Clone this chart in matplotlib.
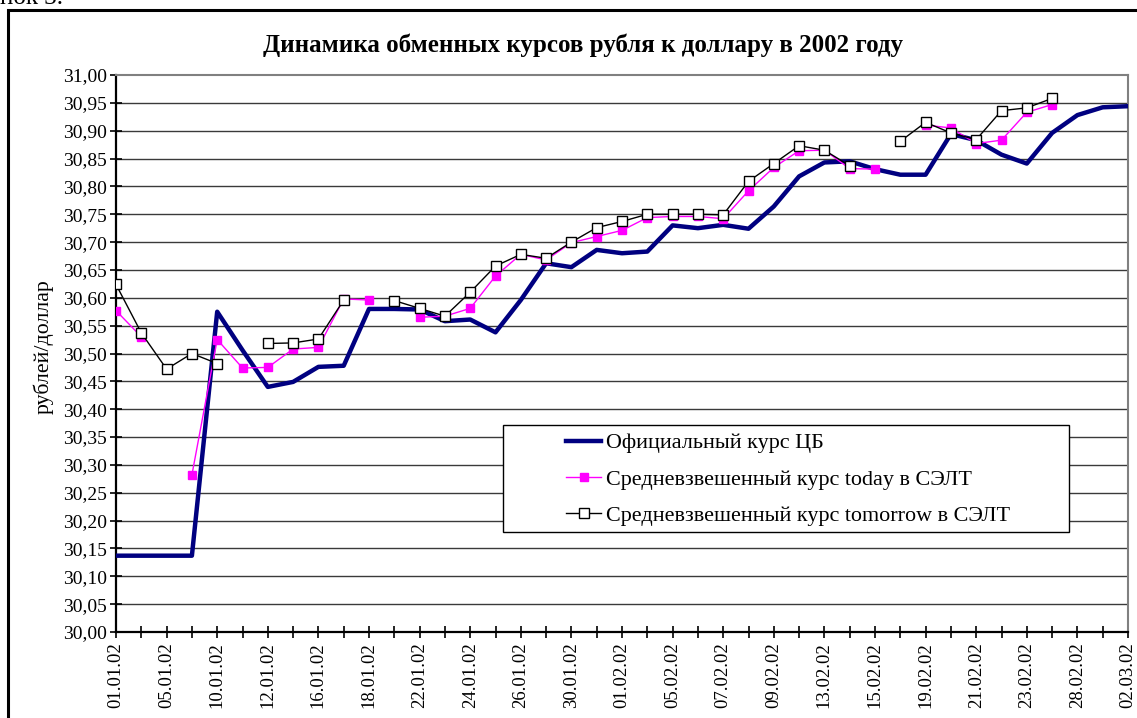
import numpy as np
import matplotlib
matplotlib.use("Agg")
import matplotlib.pyplot as plt
from matplotlib.patches import Rectangle
from matplotlib.ticker import FuncFormatter

nan = np.nan

# every second day label on the axis
date_labels = ["01.01.02", "05.01.02", "10.01.02", "12.01.02", "16.01.02", "18.01.02",
               "22.01.02", "24.01.02", "26.01.02", "30.01.02", "01.02.02", "05.02.02",
               "07.02.02", "09.02.02", "13.02.02", "15.02.02", "19.02.02", "21.02.02",
               "23.02.02", "28.02.02", "02.03.02"]

official = [30.137, 30.137, 30.137, 30.137, 30.575, 30.506, 30.440, 30.449, 30.476, 30.478,
            30.580, 30.580, 30.579, 30.558, 30.561, 30.538, 30.596, 30.662, 30.655, 30.686,
            30.680, 30.683, 30.730, 30.725, 30.731, 30.724, 30.764, 30.818, 30.843, 30.845,
            30.831, 30.821, 30.821, 30.894, 30.883, 30.857, 30.841, 30.896, 30.928, 30.942,
            30.944]

today = [30.577, 30.530, nan, 30.282, 30.525, 30.474, 30.475, 30.508, 30.511, 30.598,
         30.596, nan, 30.565, 30.567, 30.581, 30.639, 30.678, 30.668, 30.699, 30.710,
         30.721, 30.744, 30.746, 30.746, 30.742, 30.792, 30.834, 30.864, 30.865, 30.832,
         30.831, nan, 30.910, 30.905, 30.877, 30.883, 30.933, 30.947, nan, nan,
         nan]

tomorrow = [30.624, 30.537, 30.472, 30.500, 30.482, nan, 30.518, 30.519, 30.526, 30.596,
            nan, 30.595, 30.581, 30.567, 30.610, 30.657, 30.678, 30.671, 30.700, 30.726,
            30.737, 30.750, 30.750, 30.750, 30.749, 30.809, 30.841, 30.873, 30.865, 30.837,
            nan, 30.881, 30.915, 30.896, 30.884, 30.936, 30.941, 30.958, nan, nan,
            nan]

plt.rcParams["font.family"] = ["Liberation Serif", "DejaVu Serif"]

W, H = 1137, 718
fig = plt.figure(figsize=(W / 100, H / 100), dpi=100)
ax = fig.add_axes([116 / W, 1 - 632 / H, 1012 / W, 557 / H])

x = np.arange(len(official))

# grid
for v in np.arange(30.05, 31.0, 0.05):
    ax.axhline(v, color="#3a3a3a", lw=1.0, zorder=1)

ax.plot(x, official, color="#000080", lw=3.2, zorder=3, label="Официальный курс ЦБ")
ax.plot(x, today, color="#ff00ff", lw=1.0, marker="s", ms=6, mfc="#ff00ff",
        mec="#ff00ff", zorder=4, label="Средневзвешенный курс today в СЭЛТ")
ax.plot(x, tomorrow, color="black", lw=1.0, marker="s", ms=7, mfc="white",
        mec="black", mew=1.0, zorder=5, label="Средневзвешенный курс tomorrow в СЭЛТ")

ax.set_xlim(0, len(official) - 1)
ax.set_ylim(30.0, 31.0)
ax.set_yticks(np.arange(30.0, 31.001, 0.05))
ax.yaxis.set_major_formatter(FuncFormatter(lambda v, p: f"{v:.2f}".replace(".", ",")))
ax.set_xticks(x)
ax.set_xticklabels([date_labels[i // 2] if i % 2 == 0 else "" for i in x], rotation=90)
ax.tick_params(axis="both", direction="inout", length=9, width=1.2, labelsize=13.5,
               color="black")
ax.tick_params(axis="y", labelsize=14, pad=2)
ax.tick_params(axis="x", pad=3)

ax.spines["left"].set_linewidth(1.6)
ax.spines["bottom"].set_linewidth(1.6)
ax.spines["top"].set_color("#808080")
ax.spines["right"].set_color("#808080")
ax.spines["top"].set_linewidth(1.5)
ax.spines["right"].set_linewidth(1.5)

ax.set_ylabel("рублей/доллар", fontsize=15.75, labelpad=4)
ax.yaxis.set_label_coords(-0.062, (632 - 347) / 557)
fig.text(583 / W, 1 - 45 / H, "Динамика обменных курсов рубля к доллару в 2002 году",
         fontsize=18, fontweight="bold", ha="center", va="center")

# legend: Excel-like wide box drawn separately
ax.add_patch(Rectangle(((503 - 116) / 1012, (632 - 532) / 557), 566 / 1012, 107 / 557,
                       transform=ax.transAxes, facecolor="white", edgecolor="black",
                       lw=1.0, zorder=9))
leg = ax.legend(loc="upper left", bbox_to_anchor=((566 - 116) / 1012, (632 - 433) / 557),
                fontsize=15.9, frameon=False, borderaxespad=0, borderpad=0,
                handlelength=1.6, handletextpad=0.2, labelspacing=0.72)
leg.set_zorder(10)

# outer frame of the document figure
fig.patches.append(Rectangle((8 / W, -0.1), 1.2, 1 - 10 / H + 0.1,
                             transform=fig.transFigure, fill=False,
                             edgecolor="black", lw=2.2))
fig.text(0.0, 1 - 4 / H, "нок 3.", fontsize=18, va="baseline", ha="left")

fig.savefig("out.png", dpi=100)
